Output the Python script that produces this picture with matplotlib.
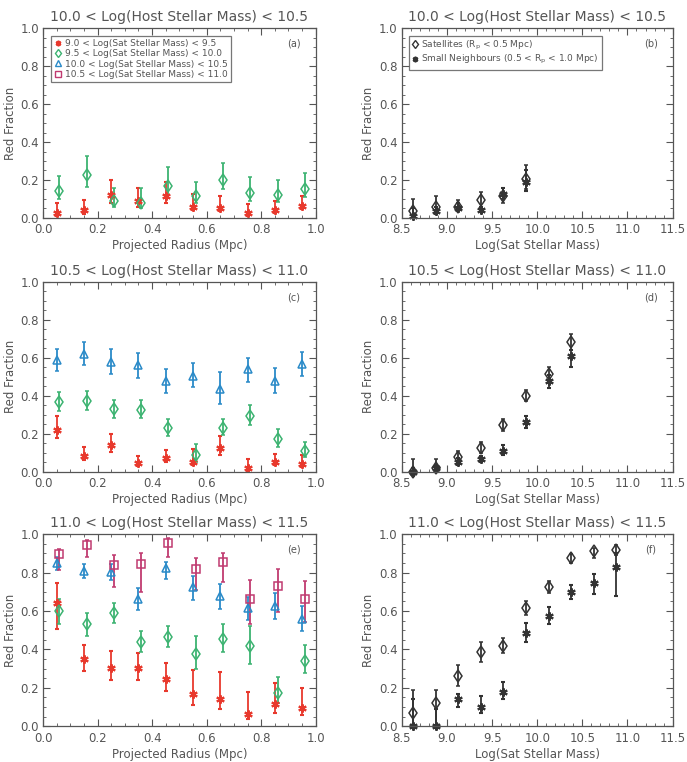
import numpy as np
import matplotlib
matplotlib.use("Agg")
import matplotlib.pyplot as plt
from matplotlib.ticker import MultipleLocator
from matplotlib.lines import Line2D

# ---- data: radius bins (left column) ----
radius = [0.05, 0.15, 0.25, 0.35, 0.45, 0.55, 0.65, 0.75, 0.85, 0.95]

# panel (a) 10.0 < host < 10.5
a_red = [0.026, 0.044, 0.12, 0.09, 0.117, 0.058, 0.053, 0.025, 0.04, 0.065]
a_red_hi = [0.079, 0.096, 0.20, 0.16, 0.19, 0.126, 0.118, 0.074, 0.09, 0.114]
a_red_lo = [0.01, 0.02, 0.08, 0.06, 0.08, 0.04, 0.035, 0.01, 0.025, 0.045]
a_grn = [0.14, 0.225, 0.09, 0.077, 0.167, 0.114, 0.20, 0.13, 0.12, 0.15]
a_grn_hi = [0.22, 0.325, 0.16, 0.16, 0.27, 0.19, 0.29, 0.215, 0.20, 0.235]
a_grn_lo = [0.10, 0.165, 0.06, 0.05, 0.12, 0.08, 0.15, 0.09, 0.085, 0.11]

# panel (c) 10.5 < host < 11.0
c_red = [0.222, 0.082, 0.142, 0.044, 0.072, 0.053, 0.126, 0.021, 0.05, 0.042]
c_red_hi = [0.295, 0.128, 0.20, 0.08, 0.116, 0.117, 0.19, 0.067, 0.095, 0.09]
c_red_lo = [0.175, 0.06, 0.105, 0.03, 0.05, 0.035, 0.09, 0.005, 0.035, 0.025]
c_grn = [0.366, 0.373, 0.33, 0.326, 0.23, 0.09, 0.23, 0.294, 0.17, 0.108]
c_grn_hi = [0.42, 0.426, 0.38, 0.376, 0.28, 0.144, 0.28, 0.354, 0.224, 0.158]
c_grn_lo = [0.32, 0.325, 0.285, 0.283, 0.19, 0.05, 0.195, 0.245, 0.13, 0.075]
c_blu = [0.59, 0.62, 0.58, 0.564, 0.476, 0.506, 0.438, 0.54, 0.48, 0.569]
c_blu_hi = [0.648, 0.683, 0.645, 0.627, 0.54, 0.573, 0.525, 0.60, 0.548, 0.63]
c_blu_lo = [0.53, 0.56, 0.515, 0.495, 0.415, 0.445, 0.355, 0.475, 0.415, 0.505]

# panel (e) 11.0 < host < 11.5
e_red = [0.644, 0.348, 0.305, 0.303, 0.244, 0.169, 0.141, 0.061, 0.113, 0.096]
e_red_hi = [0.744, 0.425, 0.392, 0.38, 0.331, 0.291, 0.282, 0.18, 0.226, 0.199]
e_red_lo = [0.505, 0.285, 0.24, 0.24, 0.185, 0.11, 0.09, 0.04, 0.07, 0.06]
e_grn = [0.60, 0.53, 0.587, 0.44, 0.465, 0.375, 0.453, 0.416, 0.174, 0.34]
e_grn_hi = [0.662, 0.587, 0.64, 0.497, 0.523, 0.469, 0.53, 0.521, 0.256, 0.422]
e_grn_lo = [0.53, 0.47, 0.535, 0.385, 0.41, 0.30, 0.385, 0.325, 0.12, 0.275]
e_blu = [0.852, 0.808, 0.805, 0.662, 0.822, 0.723, 0.679, 0.617, 0.625, 0.557]
e_blu_hi = [0.88, 0.845, 0.845, 0.718, 0.857, 0.782, 0.739, 0.674, 0.692, 0.625]
e_blu_lo = [0.815, 0.77, 0.76, 0.605, 0.765, 0.655, 0.61, 0.555, 0.56, 0.495]
e_mag = [0.897, 0.944, 0.84, 0.847, 0.956, 0.817, 0.854, 0.664, 0.732, 0.664]
e_mag_hi = [0.923, 0.97, 0.893, 0.90, 0.98, 0.875, 0.904, 0.761, 0.817, 0.756]
e_mag_lo = [0.815, 0.88, 0.725, 0.70, 0.88, 0.71, 0.75, 0.53, 0.595, 0.545]

# ---- data: satellite mass bins (right column) ----
mass = [8.625, 8.875, 9.125, 9.375, 9.625, 9.875, 10.125, 10.375, 10.625, 10.875]

b_sat = [0.035, 0.06, 0.056, 0.097, 0.114, 0.205]
b_sat_hi = [0.10, 0.114, 0.097, 0.135, 0.156, 0.28]
b_sat_lo = [0.0, 0.03, 0.035, 0.06, 0.08, 0.15]
b_nb = [0.01, 0.035, 0.05, 0.044, 0.126, 0.19]
b_nb_hi = [0.05, 0.06, 0.08, 0.06, 0.16, 0.25]
b_nb_lo = [0.0, 0.02, 0.035, 0.03, 0.10, 0.14]

d_sat = [0.0, 0.018, 0.079, 0.126, 0.245, 0.40, 0.517, 0.683]
d_sat_hi = [0.065, 0.068, 0.108, 0.154, 0.278, 0.433, 0.552, 0.727]
d_sat_lo = [0.0, 0.0, 0.055, 0.10, 0.215, 0.37, 0.48, 0.64]
d_nb = [0.0, 0.018, 0.05, 0.065, 0.11, 0.26, 0.476, 0.608]
d_nb_hi = [0.02, 0.03, 0.07, 0.08, 0.14, 0.295, 0.51, 0.64]
d_nb_lo = [0.0, 0.0, 0.035, 0.05, 0.09, 0.23, 0.44, 0.553]

f_sat = [0.068, 0.122, 0.263, 0.387, 0.418, 0.617, 0.726, 0.875, 0.91, 0.918]
f_sat_hi = [0.19, 0.186, 0.32, 0.44, 0.46, 0.652, 0.756, 0.896, 0.93, 0.945]
f_sat_lo = [0.0, 0.0, 0.21, 0.335, 0.38, 0.578, 0.695, 0.85, 0.875, 0.89]
f_nb = [0.0, 0.0, 0.143, 0.10, 0.178, 0.486, 0.575, 0.70, 0.747, 0.83]
f_nb_hi = [0.14, 0.09, 0.17, 0.155, 0.232, 0.535, 0.62, 0.735, 0.79, 0.90]
f_nb_lo = [0.0, 0.0, 0.10, 0.07, 0.14, 0.44, 0.53, 0.66, 0.69, 0.68]

titles = ["10.0 < Log(Host Stellar Mass) < 10.5",
          "10.5 < Log(Host Stellar Mass) < 11.0",
          "11.0 < Log(Host Stellar Mass) < 11.5"]
sat_labels = ["9.0 < Log(Sat Stellar Mass) < 9.5",
              "9.5 < Log(Sat Stellar Mass) < 10.0",
              "10.0 < Log(Sat Stellar Mass) < 10.5",
              "10.5 < Log(Sat Stellar Mass) < 11.0"]

RED, GRN, BLU, MAG = "#e8392d", "#3cb371", "#2a8ac8", "#c03a70"
GREY = "#555555"
DARK = "#333333"
plt.rcParams["font.family"] = "DejaVu Sans"
plt.rcParams["text.color"] = GREY
plt.rcParams["axes.labelcolor"] = GREY

fig = plt.figure(figsize=(6.87, 7.62), dpi=100)

lefts = [0.0626, 0.585]
bottoms = [0.714, 0.381, 0.047]
widths = [0.397, 0.394]
heights = [0.249, 0.249, 0.252]
msize = {"d": 6.0, "^": 5.5, "s": 5.5}


def style(ax, right):
    ax.set_ylim(0, 1)
    ax.yaxis.set_major_locator(MultipleLocator(0.2))
    ax.yaxis.set_minor_locator(MultipleLocator(0.05))
    if right:
        ax.set_xlim(8.5, 11.5)
        ax.xaxis.set_major_locator(MultipleLocator(0.5))
        ax.xaxis.set_minor_locator(MultipleLocator(0.1))
        ax.set_xlabel("Log(Sat Stellar Mass)", fontsize=8.5, labelpad=2)
    else:
        ax.set_xlim(0, 1)
        ax.xaxis.set_major_locator(MultipleLocator(0.2))
        ax.xaxis.set_minor_locator(MultipleLocator(0.05))
        ax.set_xlabel("Projected Radius (Mpc)", fontsize=8.5, labelpad=2)
    ax.set_ylabel("Red Fraction", fontsize=8.5)
    ax.tick_params(which="both", direction="in", top=True, right=True,
                   colors=GREY, labelsize=8.5)
    ax.tick_params(which="major", length=5, pad=4)
    ax.tick_params(axis="y", which="major", pad=3)
    ax.tick_params(which="minor", length=2.5)
    ax.xaxis.set_major_formatter(plt.FormatStrFormatter("%.1f"))
    ax.yaxis.set_major_formatter(plt.FormatStrFormatter("%.1f"))
    for s in ax.spines.values():
        s.set_color(GREY)
        s.set_linewidth(0.9)


def eb(ax, x, y, hi, lo, color, marker, ms=5.5, mew=1.1):
    y = np.array(y)
    yerr = [y - np.array(lo), np.array(hi) - y]
    ax.errorbar(x, y, yerr=yerr, marker=marker, linestyle="none", color=color,
                mfc="none", mec=color, ms=ms, mew=mew, elinewidth=1.3,
                capsize=1.5, capthick=1.0, clip_on=False)


star = (6, 2, 0)
rad = np.array(radius)
left_sets = [
    [(a_red, a_red_hi, a_red_lo, RED, star, 0.0),
     (a_grn, a_grn_hi, a_grn_lo, GRN, "d", 0.01)],
    [(c_red, c_red_hi, c_red_lo, RED, star, 0.0),
     (c_grn, c_grn_hi, c_grn_lo, GRN, "d", 0.01),
     (c_blu, c_blu_hi, c_blu_lo, BLU, "^", 0.0)],
    [(e_red, e_red_hi, e_red_lo, RED, star, 0.0),
     (e_grn, e_grn_hi, e_grn_lo, GRN, "d", 0.01),
     (e_blu, e_blu_hi, e_blu_lo, BLU, "^", 0.0),
     (e_mag, e_mag_hi, e_mag_lo, MAG, "s", 0.01)],
]
right_sets = [
    (b_sat, b_sat_hi, b_sat_lo, b_nb, b_nb_hi, b_nb_lo),
    (d_sat, d_sat_hi, d_sat_lo, d_nb, d_nb_hi, d_nb_lo),
    (f_sat, f_sat_hi, f_sat_lo, f_nb, f_nb_hi, f_nb_lo),
]
letters = [("(a)", "(b)"), ("(c)", "(d)"), ("(e)", "(f)")]

for r in range(3):
    # left column
    ax = fig.add_axes([lefts[0], bottoms[r], widths[0], heights[r]])
    style(ax, False)
    ax.yaxis.set_label_coords(-0.095, 0.5)
    for y, hi, lo, col, mk, off in left_sets[r]:
        if mk == star:
            eb(ax, rad[:len(y)] + off, y, hi, lo, col, mk, ms=6, mew=1.5)
        else:
            eb(ax, rad[:len(y)] + off, y, hi, lo, col, mk, ms=msize[mk])
    ax.set_title(titles[r], fontsize=10, color=GREY, pad=5)
    ax.text(0.92, 0.92, letters[r][0], transform=ax.transAxes, fontsize=7,
            ha="center", va="center")
    if r == 0:
        handles = [Line2D([], [], ls="", marker=star, color=RED, ms=4, mew=1.3),
                   Line2D([], [], ls="", marker="d", color=GRN, mfc="none", ms=4.5, mew=1),
                   Line2D([], [], ls="", marker="^", color=BLU, mfc="none", ms=4.5, mew=1),
                   Line2D([], [], ls="", marker="s", color=MAG, mfc="none", ms=4.5, mew=1)]
        leg = ax.legend(handles, sat_labels, loc="upper left",
                        bbox_to_anchor=(0.03, 0.96), fontsize=6.5,
                        frameon=True, fancybox=False, handlelength=0.8,
                        handletextpad=0.4, borderpad=0.35, labelspacing=0.15,
                        borderaxespad=0, labelcolor=GREY)
        leg.get_frame().set_edgecolor(GREY)
        leg.get_frame().set_linewidth(0.9)

    # right column
    ax = fig.add_axes([lefts[1], bottoms[r], widths[1], heights[r]])
    style(ax, True)
    ax.yaxis.set_label_coords(-0.1, 0.5)
    s, shi, slo, nb, nhi, nlo = right_sets[r]
    m = np.array(mass)
    eb(ax, m[:len(nb)], nb, nhi, nlo, DARK, star, ms=6, mew=1.5)
    eb(ax, m[:len(s)], s, shi, slo, DARK, "d", ms=msize["d"])
    ax.set_title(titles[r], fontsize=10, color=GREY, pad=5)
    ax.text(0.92, 0.92, letters[r][1], transform=ax.transAxes, fontsize=7,
            ha="center", va="center")
    if r == 0:
        handles = [Line2D([], [], ls="", marker="d", color=DARK, mfc="none", ms=4.5, mew=1),
                   Line2D([], [], ls="", marker=star, color=DARK, ms=4, mew=1.3)]
        labs = [r"Satellites (R$_{\rm p}$ < 0.5 Mpc)",
                r"Small Neighbours (0.5 < R$_{\rm p}$ < 1.0 Mpc)"]
        leg = ax.legend(handles, labs, loc="upper left",
                        bbox_to_anchor=(0.026, 0.96), fontsize=6.5,
                        frameon=True, fancybox=False, handlelength=0.6,
                        handletextpad=0.4, borderpad=0.35, labelspacing=0.15,
                        borderaxespad=0, labelcolor=GREY)
        leg.get_frame().set_edgecolor(GREY)
        leg.get_frame().set_linewidth(0.9)

fig.savefig("out.png", dpi=100)
